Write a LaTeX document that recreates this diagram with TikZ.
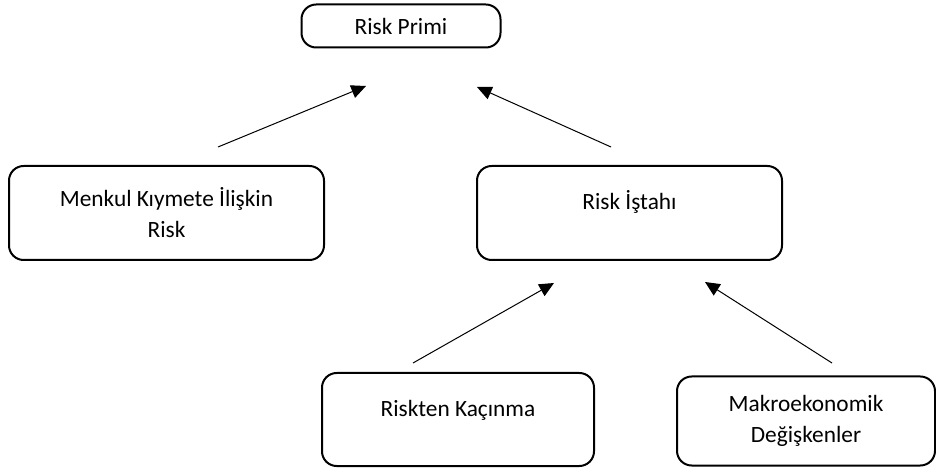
\documentclass[tikz,border=0pt]{standalone}
\usepackage{fontspec}
\setmainfont{Carlito}
\usetikzlibrary{arrows.meta}

\tikzset{
  box/.style={draw, line width=1.5pt, rounded corners=11pt, align=center,
    font=\fontsize{17.5}{23.25}\selectfont},
  topbox/.style={box, text height=12pt, text depth=16.7pt},
  link/.style={line width=0.75pt, -{Triangle[length=11pt,width=10pt]}},
}

\begin{document}
\begin{tikzpicture}[x=0.75pt, y=-0.75pt]
    \useasboundingbox (0,0) rectangle (936,470);
    % top
    \node [box, minimum width=149.25pt, minimum height=32.25pt]  (primi)   at (401, 26)    {Risk Primi};
    % middle row
    \node [box, minimum width=236.25pt, minimum height=70.5pt]   (menkul)  at (166.5, 213) {Menkul Kıymete İlişkin\\Risk};
    \node [topbox, minimum width=228.75pt, minimum height=70.5pt] (istah)  at (629.5, 213) {Risk İştahı};
    % bottom row
    \node [topbox, minimum width=204pt, minimum height=69.75pt]  (kacinma) at (458, 419.5) {Riskten Kaçınma};
    \node [box, minimum width=193.5pt, minimum height=66.75pt]   (makro)   at (806, 421)   {Makroekonomik\\Değişkenler};
    % arrow ends
    \coordinate (menkul-out)  at (218, 147);
    \coordinate (primi-in-l)  at (366, 86);
    \coordinate (istah-out)   at (611, 147);
    \coordinate (primi-in-r)  at (477, 87);
    \coordinate (kacinma-out) at (413, 363);
    \coordinate (istah-in-l)  at (554, 283);
    \coordinate (makro-out)   at (832, 363);
    \coordinate (istah-in-r)  at (705, 282);
    \draw [link] (menkul-out)  -- (primi-in-l);
    \draw [link] (istah-out)   -- (primi-in-r);
    \draw [link] (kacinma-out) -- (istah-in-l);
    \draw [link] (makro-out)   -- (istah-in-r);
\end{tikzpicture}
\end{document}
